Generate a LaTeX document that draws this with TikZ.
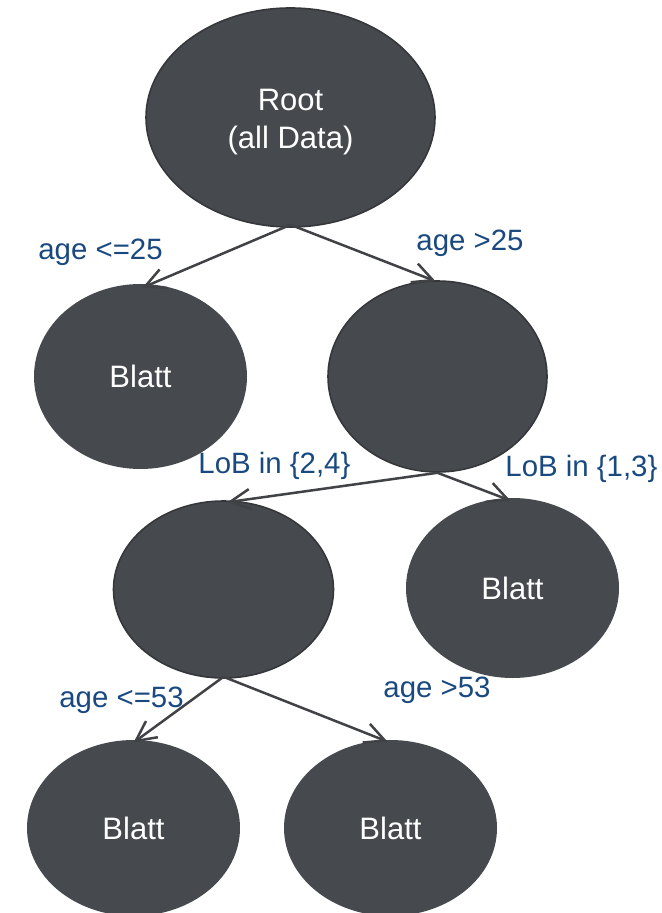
\documentclass[tikz,border=0pt]{standalone}
\usepackage{fontspec}
\setmainfont{Liberation Sans}
\usetikzlibrary{shapes.geometric,arrows.meta}
\definecolor{nodefill}{HTML}{46494E}
\definecolor{nodeline}{HTML}{35373B}
\definecolor{edgecol}{HTML}{404246}
\definecolor{labelcol}{HTML}{19497F}
\tikzset{
  treenode/.style={ellipse, fill=nodefill, inner sep=0pt, text=white,
    font=\fontsize{15.5}{19}\selectfont, align=center},
  innernode/.style={treenode, draw=nodeline, line width=0.8pt},
  leafnode/.style={treenode, draw=none},
  nodetext/.style={text=white, inner sep=0pt, align=center,
    font=\fontsize{15.5}{19}\selectfont},
  edge/.style={draw=edgecol, line width=1.25pt,
    -{Straight Barb[length=10pt,width=10pt,line width=1.25pt]}},
  edgelabel/.style={text=labelcol, inner sep=0pt,
    font=\fontsize{14.7}{17}\selectfont}
}
\begin{document}
\begin{tikzpicture}[x=0.5pt,y=-0.5pt]
\useasboundingbox (0,0) rectangle (662,913);
% nodes
\node[innernode, minimum width=144.5pt, minimum height=109.5pt] (root) at (290.5,117.5) {};
\node[nodetext] (roottext) at (290.5,122) {Root\\(all Data)};
\node[leafnode, minimum width=106.5pt, minimum height=92.5pt] (leafA) at (140.5,376.5) {Blatt};
\node[innernode, minimum width=109.5pt, minimum height=95.5pt] (splitB) at (437.5,376.5) {};
\node[innernode, minimum width=110pt, minimum height=88.5pt] (splitC) at (223.5,589.5) {};
\node[leafnode, minimum width=106.5pt, minimum height=90pt] (leafD) at (512.5,588) {Blatt};
\node[leafnode, minimum width=106.5pt, minimum height=88pt] (leafE) at (133.5,828) {Blatt};
\node[leafnode, minimum width=106.5pt, minimum height=88pt] (leafF) at (390.5,828) {Blatt};
% connectors
\draw[edge] ([yshift=1.5pt]root.south) -- ([xshift=1pt,yshift=-2pt]leafA.north);
\draw[edge] ([yshift=1.5pt]root.south) -- ([xshift=-1pt,yshift=-0.5pt]splitB.north);
\draw[edge] (splitB.south) -- ([xshift=2pt,yshift=-1pt]splitC.north);
\draw[edge] (splitB.south) -- ([xshift=-1pt,yshift=-1.5pt]leafD.north);
\draw[edge] ([yshift=1pt]splitC.south) -- ([yshift=-1.5pt]leafE.north);
\draw[edge] ([yshift=1pt]splitC.south) -- ([xshift=-1.5pt,yshift=-1pt]leafF.north);
% labels
\node[edgelabel, anchor=west] (lab1) at (38,252) {age <=25};
\node[edgelabel, anchor=west] (lab2) at (416,243) {age >25};
\node[edgelabel, anchor=west] (lab3) at (198,466) {LoB in \{2,4\}};
\node[edgelabel, anchor=west] (lab4) at (505,469) {LoB in \{1,3\}};
\node[edgelabel, anchor=west] (lab5) at (59,700) {age <=53};
\node[edgelabel, anchor=west] (lab6) at (383,690) {age >53};
\end{tikzpicture}
\end{document}
